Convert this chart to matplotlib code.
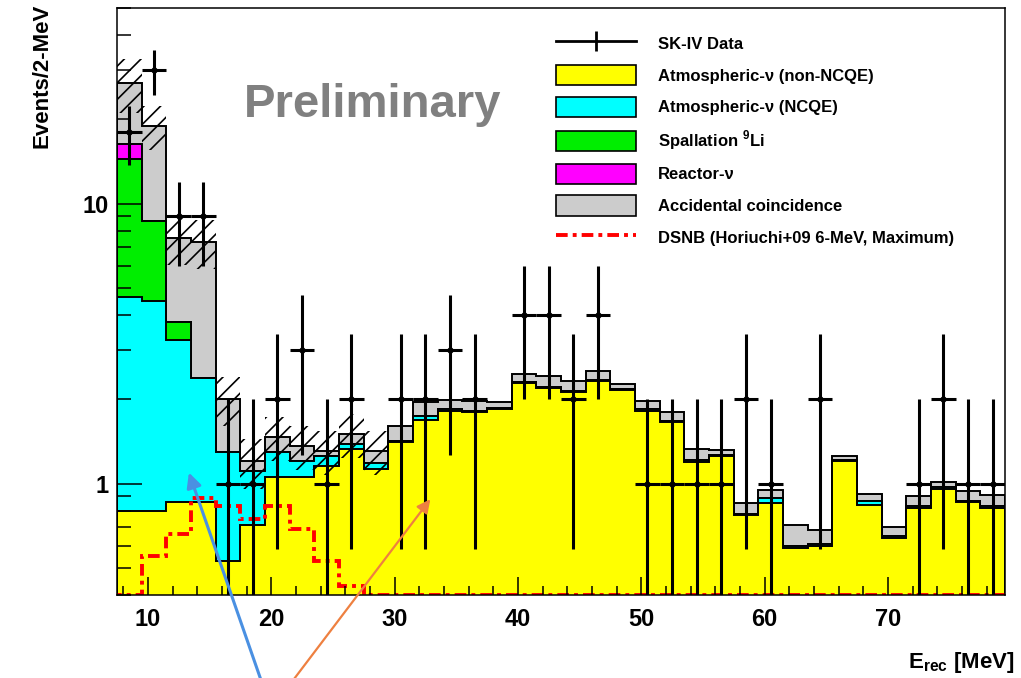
import numpy as np
import matplotlib
matplotlib.use("Agg")
import matplotlib.pyplot as plt
from matplotlib.patches import Patch
from matplotlib.lines import Line2D
from matplotlib.ticker import MultipleLocator, LogLocator, NullFormatter, FixedFormatter, FixedLocator

plt.rcParams["font.family"] = ["Liberation Sans", "DejaVu Sans"]
plt.rcParams["mathtext.fontset"] = "custom"
plt.rcParams["mathtext.rm"] = "Liberation Sans"
plt.rcParams["mathtext.bf"] = "Liberation Sans:bold"
plt.rcParams["hatch.linewidth"] = 1.2

# 36 bins of 2 MeV, 7.5 - 79.5 MeV
bin_lo, bin_width, n_bins = 7.5, 2.0, 36
edges = bin_lo + bin_width * np.arange(n_bins + 1)
centers = 0.5 * (edges[:-1] + edges[1:])

atm_non_ncqe = [0.80, 0.80, 0.86, 0.86, 0.53, 0.71, 1.06, 1.06, 1.16, 1.33, 1.13, 1.41,
                1.69, 1.81, 1.80, 1.85, 2.28, 2.19, 2.12, 2.32, 2.16, 1.81, 1.66, 1.19,
                1.25, 0.77, 0.85, 0.59, 0.60, 1.20, 0.84, 0.64, 0.82, 0.96, 0.86, 0.82]
atm_ncqe = [3.84, 3.70, 2.41, 1.53, 0.77, 0.40, 0.24, 0.14, 0.09, 0.06, 0.05, 0.01,
            0.05, 0.04, 0.02, 0.02, 0.02, 0.02, 0.02, 0.02, 0.01, 0.04, 0.02, 0.02,
            0.02, 0.01, 0.035, 0.01, 0.01, 0.01, 0.03, 0.01, 0.01, 0.01, 0.01, 0.01]
spall_li9 = [9.8, 4.2, 0.5] + [0.0] * 33
reactor = [1.9] + [0.0] * 35
accidental = [10.7, 10.2, 3.8, 4.9, 0.70, 0.09, 0.17, 0.16, 0.06, 0.11, 0.13, 0.19,
              0.21, 0.14, 0.15, 0.08, 0.17, 0.22, 0.18, 0.18, 0.09, 0.13, 0.12, 0.12,
              0.05, 0.07, 0.06, 0.11, 0.07, 0.04, 0.05, 0.05, 0.07, 0.04, 0.07, 0.08]
dsnb = [0.30, 0.55, 0.66, 0.885, 0.835, 0.75, 0.83, 0.69, 0.53, 0.43, 0.36, 0.32,
        0.28, 0.25, 0.22, 0.19, 0.17, 0.15, 0.13, 0.11, 0.10, 0.09, 0.08, 0.07,
        0.06, 0.05, 0.045, 0.04, 0.035, 0.03, 0.027, 0.024, 0.021, 0.019, 0.017, 0.015]
data_counts = [18, 30, 9, 9, 1, 1, 2, 3, 1, 2, 0, 2, 2, 3, 2, 0, 4, 4, 2, 4, 0, 1,
               1, 1, 1, 2, 1, 0, 2, 0, 0, 0, 1, 2, 1, 1]
syst_frac = [0.22, 0.18, 0.20, 0.20, 0.20, 0.20, 0.18, 0.18, 0.18, 0.18, 0.18]

labels = ["Atmospheric-\u03bd (non-NCQE)", "Atmospheric-\u03bd (NCQE)",
          r"Spallation $^{\mathbf{9}}$Li", "Reactor-\u03bd", "Accidental coincidence"]
colors = ["#ffff00", "#00ffff", "#00ee00", "#ff00ff", "#cccccc"]

ymin, ymax = 0.4, 50

fig = plt.figure(figsize=(10.21, 6.78), dpi=100)
ax = fig.add_axes([117 / 1021, 1 - 595 / 678, (1005 - 117) / 1021, (595 - 8) / 678])

stack = np.cumsum(np.array([atm_non_ncqe, atm_ncqe, spall_li9, reactor, accidental]), axis=0)
for i in reversed(range(len(colors))):
    ax.stairs(stack[i], edges, baseline=1e-3, fill=True, facecolor=colors[i],
              edgecolor="black", linewidth=1.4)

# systematic band on the total (low-energy bins)
nb = len(syst_frac)
total = stack[-1][:nb]
frac = np.array(syst_frac)
ax.stairs(total * (1 + frac), edges[:nb + 1], baseline=total * (1 - frac), fill=True,
          facecolor="none", edgecolor="black", linewidth=0, hatch="//")

# DSNB expectation (drawn on the frame when below range, as ROOT does)
ax.stairs(np.clip(dsnb, ymin, None), edges, color="red", linewidth=2.8,
          linestyle=(0, (3, 1.3, 1, 1.3)))

n = np.array(data_counts, dtype=float)
m = n > 0
err = np.sqrt(n[m])
ax.errorbar(centers[m], n[m], xerr=bin_width / 2,
            yerr=[np.minimum(err, n[m] - 1e-4), err],
            fmt="o", ms=3.5, color="black", elinewidth=2.2, capsize=0)

ax.set_yscale("log")
ax.set_xlim(edges[0], edges[-1])
ax.set_ylim(ymin, ymax)
ax.yaxis.set_major_locator(FixedLocator([1, 10]))
ax.yaxis.set_major_formatter(FixedFormatter(["1", "10"]))
ax.yaxis.set_minor_locator(LogLocator(base=10, subs=np.arange(2, 10)))
ax.yaxis.set_minor_formatter(NullFormatter())
ax.xaxis.set_major_locator(MultipleLocator(10))
ax.xaxis.set_minor_locator(MultipleLocator(2))
ax.tick_params(which="both", direction="in", top=False, right=False, width=1.1,
               labelsize=17)
ax.tick_params(axis="y", which="major", length=18, pad=6)
ax.tick_params(axis="y", which="minor", length=10)
ax.tick_params(axis="x", which="major", length=13, pad=9)
ax.tick_params(axis="x", which="minor", length=6.5)
for lab in ax.get_xticklabels() + ax.get_yticklabels():
    lab.set_fontweight("bold")
for sp in ax.spines.values():
    sp.set_linewidth(1.1)

fig.text(42 / 1021, 1 - 4 / 678, "Events/2-MeV", rotation=90, ha="center", va="top",
         fontsize=16, fontweight="bold")
fig.text(1015 / 1021, 1 - 668 / 678, r"$\mathbf{E}_{\mathbf{rec}}$ [MeV]", ha="right",
         va="baseline", fontsize=16, fontweight="bold")
fig.text(373 / 1021, 1 - 105 / 678, "Preliminary", ha="center", va="center",
         fontsize=34, fontweight="bold", color="#808080")

handles = [Line2D([], [], color="black", lw=2, marker="|", ms=14, mew=2)]
handles += [Patch(facecolor=c, edgecolor="black", linewidth=1.2) for c in colors]
handles += [Line2D([], [], color="red", lw=2.8, linestyle=(0, (3, 1.3, 1, 1.3)))]
leg = fig.legend(handles, ["SK-IV Data"] + labels + ["DSNB (Horiuchi+09 6-MeV, Maximum)"],
                 loc="upper left", bbox_to_anchor=(556 / 1021, 1 - 33 / 678),
                 frameon=False, borderpad=0, borderaxespad=0, fontsize=12,
                 handlelength=4.8, handleheight=1.5, labelspacing=0.69, handletextpad=1.3)
for t in leg.get_texts():
    t.set_fontweight("bold")

# slide arrows pointing into the plot
ax.annotate("", xy=(188, 678 - 470), xycoords="figure pixels",
            xytext=(262, -5), textcoords="figure pixels", annotation_clip=False,
            arrowprops=dict(arrowstyle="-|>", color="#4a90e2", lw=2.2, mutation_scale=22))
ax.annotate("", xy=(432, 678 - 497), xycoords="figure pixels",
            xytext=(291, -5), textcoords="figure pixels", annotation_clip=False,
            arrowprops=dict(arrowstyle="-|>", color="#ee8040", lw=1.6, mutation_scale=20))

fig.savefig("out.png", dpi=100)
